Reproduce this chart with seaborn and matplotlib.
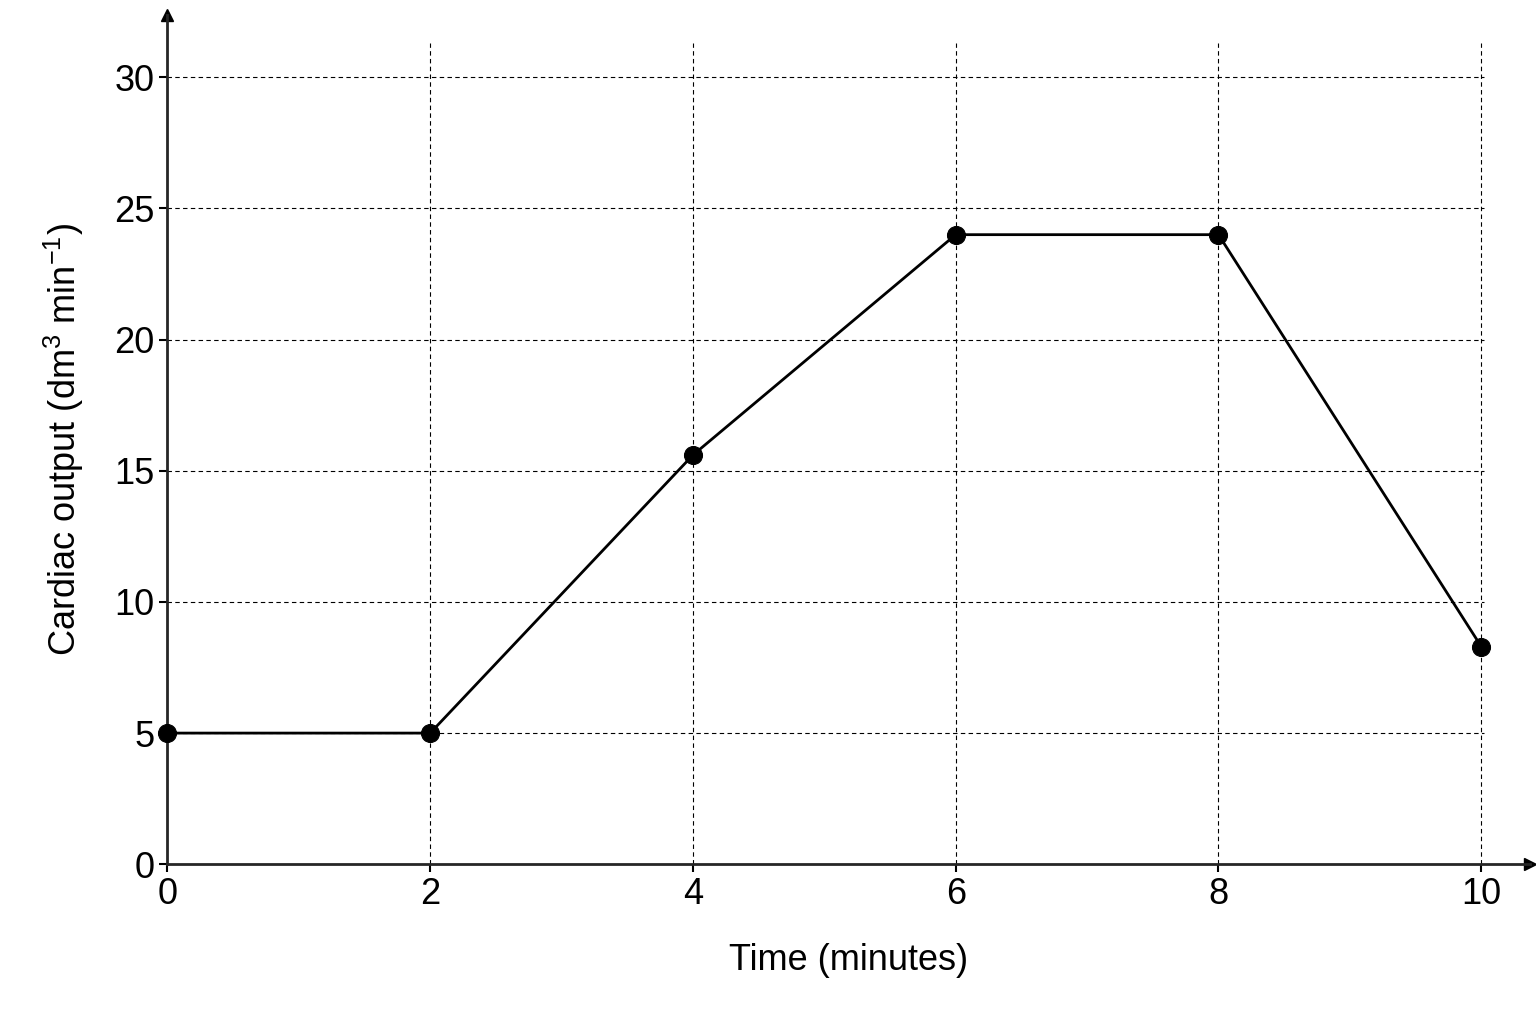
import numpy as np
import pandas as pd
import seaborn as sns
import matplotlib.pyplot as plt

time_min = [0, 2, 4, 6, 8, 10]
cardiac_output = [5.0, 5.0, 15.6, 24.0, 24.0, 8.3]
x_ticks = [0, 2, 4, 6, 8, 10]
y_ticks = [0, 5, 10, 15, 20, 25, 30]

sns.set_style("white")
plt.rcParams['font.family'] = ['Liberation Sans', 'DejaVu Sans']
plt.rcParams['mathtext.fontset'] = 'custom'
plt.rcParams['mathtext.rm'] = 'Liberation Sans'
plt.rcParams['text.color'] = 'black'
plt.rcParams['axes.labelcolor'] = 'black'
plt.rcParams['xtick.color'] = 'black'
plt.rcParams['ytick.color'] = 'black'

df = pd.DataFrame({'t': time_min, 'co': cardiac_output})

fig = plt.figure(figsize=(15.36, 10.24), dpi=100)
ax = fig.add_axes([0.109, 0.156, 0.887, 0.829])
ax.set_xlim(0, 10.37)
ax.set_ylim(0, 32.36)

# dashed grid, ending at the last tick
for x in x_ticks[1:]:
    ax.plot([x, x], [0, 31.3], color='black', lw=0.8, ls=(0, (4, 3)), zorder=1)
for y in y_ticks[1:]:
    ax.plot([0, 10.02], [y, y], color='black', lw=0.8, ls=(0, (4, 3)), zorder=1)

sns.lineplot(data=df, x='t', y='co', ax=ax, color='black', lw=2, marker='o',
             markersize=13, markeredgecolor='black', zorder=3, clip_on=False)

for s in ['top', 'right']:
    ax.spines[s].set_visible(False)
for s in ['left', 'bottom']:
    ax.spines[s].set_linewidth(2)
ax.plot(1, 0, '>k', ms=9, transform=ax.transAxes, clip_on=False)
ax.plot(0, 1, '^k', ms=9, transform=ax.transAxes, clip_on=False)

ax.set_xticks(x_ticks)
ax.set_yticks(y_ticks)
ax.tick_params(labelsize=26, length=6, width=1.5, direction='out', left=True, bottom=True)
ax.set_xlabel('Time (minutes)', fontsize=26, labelpad=22)
ax.set_ylabel('Cardiac output (dm$^3$ min$^{-1}$)', fontsize=26, labelpad=20)

fig.savefig('out.png', dpi=100)
